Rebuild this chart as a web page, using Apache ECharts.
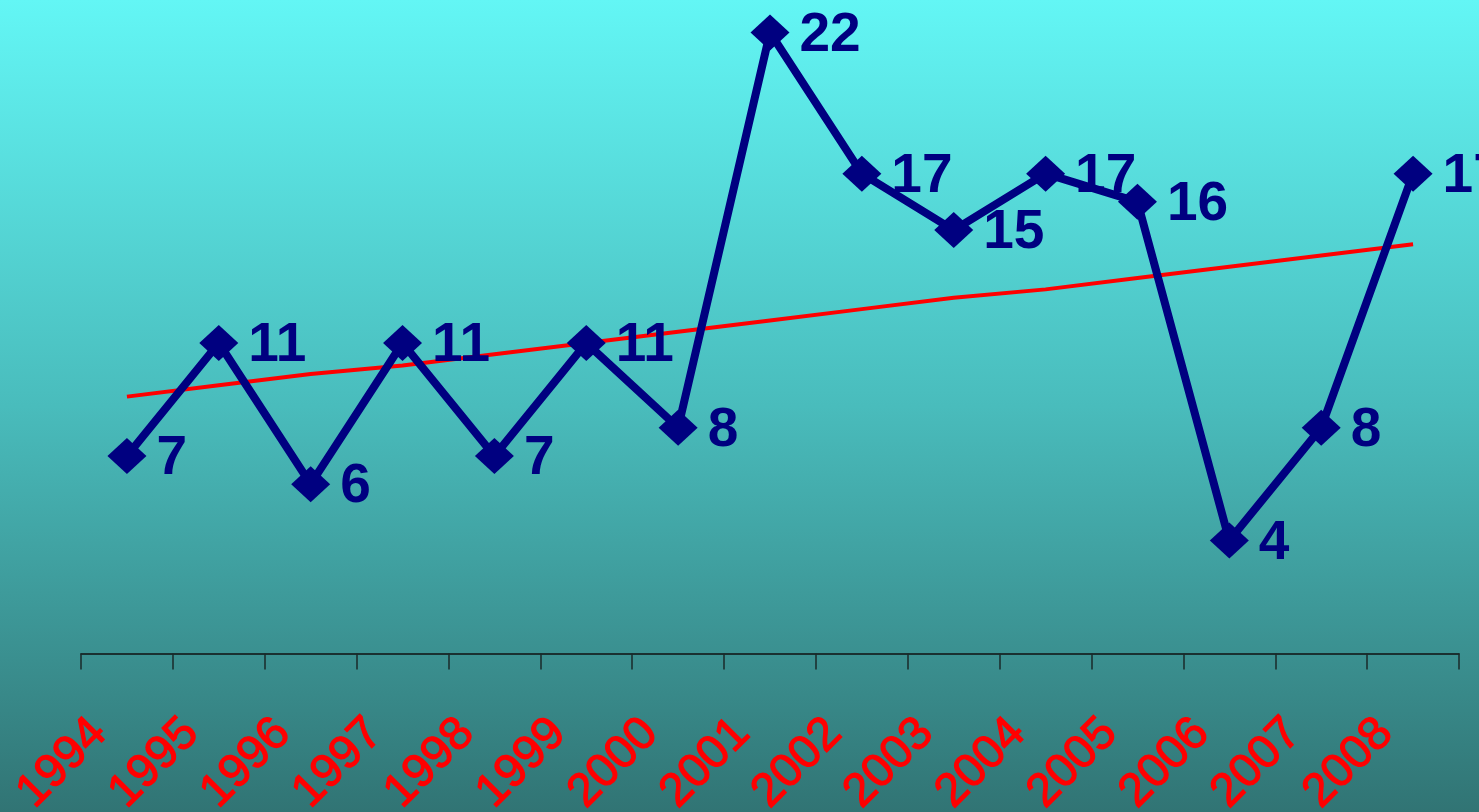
<!DOCTYPE html>
<html>
<head>
<meta charset="utf-8">
<script src="https://cdn.jsdelivr.net/npm/echarts@6/dist/echarts.min.js"></script>
<style>
html,body{margin:0;padding:0;}
#chart{width:1479px;height:812px;}
</style>
</head>
<body>
<div id="chart"></div>
<script>
const years = ['1994','1995','1996','1997','1998','1999','2000','2001','2002','2003','2004','2005','2006','2007','2008'];
const values = [7, 11, 6, 11, 7, 11, 8, 22, 17, 15, 17, 16, 4, 8, 17];
const trendValues = [9.1, 9.5, 9.9, 10.2, 10.6, 11.0, 11.4, 11.8, 12.2, 12.6, 12.9, 13.3, 13.7, 14.1, 14.5];

const chart = echarts.init(document.getElementById('chart'));
chart.setOption({
  backgroundColor: new echarts.graphic.LinearGradient(0, 0, 0, 1, [
    {offset: 0, color: '#63f6f5'},
    {offset: 0.5, color: '#49bcbc'},
    {offset: 1, color: '#317474'}
  ]),
  animation: false,
  grid: {left: 81, right: 20, top: 32.5, bottom: 158.5, containLabel: false, outerBoundsMode: 'none'},
  xAxis: {
    type: 'category',
    data: years,
    boundaryGap: true,
    axisLine: {show: true, lineStyle: {color: '#111', width: 1.5}},
    axisTick: {show: true, length: 16, interval: 0, alignWithLabel: false, lineStyle: {color: '#1a2a2a', width: 1.5}},
    axisLabel: {
      show: true,
      rotate: 45,
      margin: 45,
      padding: [0, 39, 0, 0],
      color: '#ff0000',
      textBorderColor: '#ff0000',
      textBorderWidth: 1.2,
      fontSize: 47,
      fontFamily: 'Liberation Sans, Arial, sans-serif',
      fontWeight: 'normal',
      interval: 0
    }
  },
  yAxis: {
    type: 'value',
    min: 0,
    max: 22,
    show: false,
    splitLine: {show: false}
  },
  series: [
    {
      type: 'line',
      data: values,
      symbol: 'diamond',
      symbolSize: [39, 36],
      itemStyle: {color: '#000080'},
      lineStyle: {color: '#000080', width: 8},
      label: {
        show: true,
        position: 'right',
        distance: 10,
        offset: [0, 3],
        color: '#000080',
        fontSize: 55,
        fontWeight: 'bold',
        fontFamily: 'Liberation Sans, Arial, sans-serif'
      },
      z: 3
    },
    {
      type: 'line',
      data: trendValues,
      symbol: 'none',
      lineStyle: {color: '#ff0000', width: 4},
      z: 2,
      silent: true
    }
  ]
});
</script>
</body>
</html>
